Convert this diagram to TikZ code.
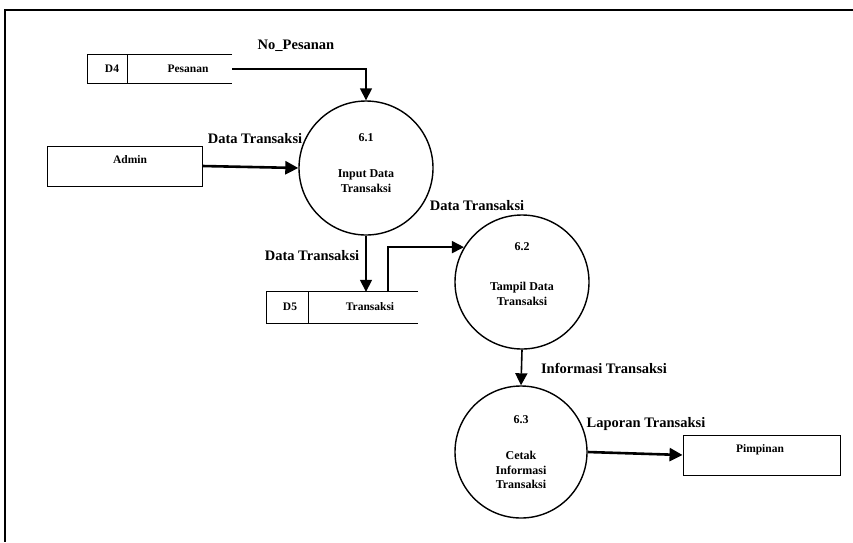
\documentclass[tikz,border=0pt]{standalone}
\usepackage{fontspec}
\setmainfont{Liberation Serif}
\usetikzlibrary{arrows.meta,calc}

\tikzset{
  proc/.style={circle, draw, line width=1.4pt, minimum size=134pt, inner sep=0pt},
  ptext/.style={font=\fontsize{12}{14.5}\selectfont\bfseries, align=center, inner sep=0pt},
  entity/.style={draw, line width=0.9pt, minimum width=155pt, minimum height=40pt, inner sep=0pt},
  etext/.style={font=\fontsize{11.5}{13}\selectfont\bfseries, inner sep=0pt},
  flowlabel/.style={font=\fontsize{14.5}{16}\selectfont\bfseries, inner sep=0pt},
  flow/.style={line width=1.6pt, -{Triangle[length=12pt,width=12pt]}},
  bigflow/.style={line width=2.6pt, -{Triangle[length=13pt,width=13pt]}},
  storeline/.style={line width=0.9pt}
}

\begin{document}
\begin{tikzpicture}[x=1pt,y=-1pt]
\useasboundingbox (0,0) rectangle (853,542);

% outer frame (top and left edges)
\draw[line width=1.2pt] (853,10) -- (5,10) -- (5,542);

% data store D4
\node[minimum width=144pt, minimum height=28pt, inner sep=0pt] (d4) at (160,69) {};
\draw[storeline] (d4.north east) -- (d4.north west) -- (d4.south west) -- (d4.south east);
\draw[storeline] ($(d4.north west)+(40,0)$) -- ($(d4.south west)+(40,0)$);
\node[etext] (d4id) at (112,69) {D4};
\node[etext] (d4name) at (188,69) {Pesanan};

% data store D5
\node[minimum width=151pt, minimum height=31pt, inner sep=0pt] (d5) at (342.5,307.5) {};
\draw[storeline] (d5.north east) -- (d5.north west) -- (d5.south west) -- (d5.south east);
\draw[storeline] ($(d5.north west)+(42,0)$) -- ($(d5.south west)+(42,0)$);
\node[etext] (d5id) at (290,307) {D5};
\node[etext] (d5name) at (370,307) {Transaksi};
\coordinate (d5out) at (388,292);

% external entities
\node[entity] (admin) at (124.5,166) {};
\node[etext] (admintext) at (130,160) {Admin};
\node[entity, minimum width=157pt] (pimpinan) at (761.5,455) {};
\node[etext] (pimptext) at (760,450) {Pimpinan};

% processes
\node[proc] (p61) at (366,168) {};
\node[ptext] (p61n) at (366,138) {6.1};
\node[ptext] (p61t) at (366,181) {Input Data\\Transaksi};

\node[proc] (p62) at (522,282) {};
\node[ptext] (p62n) at (522,247) {6.2};
\node[ptext] (p62t) at (522,294) {Tampil Data\\Transaksi};

\node[proc, minimum size=132pt] (p63) at (521,452) {};
\node[ptext] (p63n) at (521,420) {6.3};
\node[ptext] (p63t) at (521,470) {Cetak\\Informasi\\Transaksi};

% flows
\draw[flow] (d4.east) -| (p61.north);
\node[flowlabel] (l1) at (296,46) {No\_Pesanan};

\draw[bigflow] (admin.east) -- (p61.west);
\node[flowlabel] (l2) at (255,139) {Data Transaksi};

\draw[flow] (p61.south) -- (d5.north -| p61.south);
\node[flowlabel] (l3) at (312,256) {Data Transaksi};

\draw[flow] (d5out) |- (p62.149);
\node[flowlabel] (l4) at (477,206) {Data Transaksi};

\draw[flow] (p62.south) -- (p63.north);
\node[flowlabel] (l5) at (604,368) {Informasi Transaksi};

\draw[bigflow] (p63.east) -- (pimpinan.west);
\node[flowlabel] (l6) at (646,424) {Laporan Transaksi};
\end{tikzpicture}
\end{document}
